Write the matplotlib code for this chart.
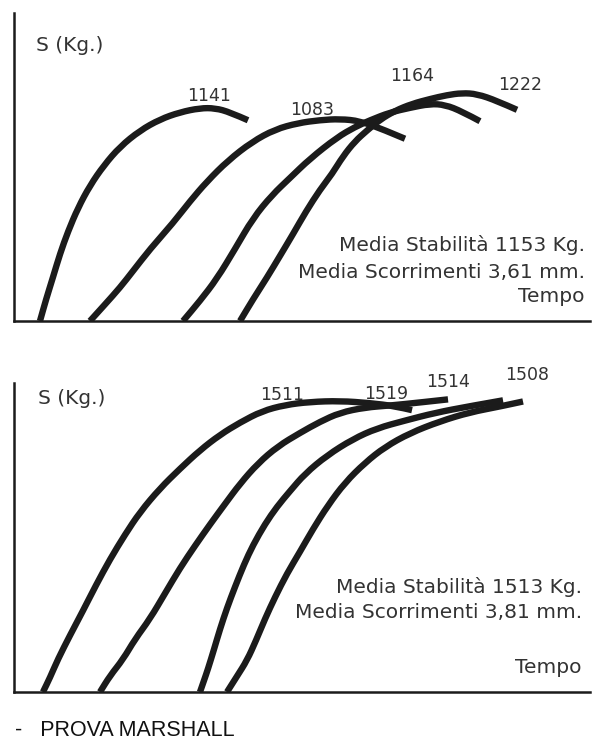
import matplotlib
matplotlib.use("Agg")
import matplotlib.pyplot as plt
from matplotlib.path import Path
from matplotlib.patches import PathPatch

# Marshall test: load S (Kg) against time for four specimens, two mixes

# --- mix 1 ---
a_t = [4.51, 5.56, 6.77, 7.99, 9.38, 11.11, 13.19, 15.63, 18.40, 21.88, 25.35, 28.82, 32.29, 34.90, 37.50, 40.63]
a_s = [0, 115, 235, 360, 480, 606, 726, 835, 934, 1021, 1081, 1119, 1141, 1141, 1119, 1076]

b_t = [13.19, 15.80, 18.40, 20.66, 23.61, 27.60, 30.56, 33.51, 37.15, 41.32, 45.31, 49.31, 53.13, 56.60, 60.07, 64.06, 67.88]
b_s = [0, 89, 179, 268, 385, 525, 642, 748, 860, 960, 1027, 1061, 1077, 1083, 1072, 1027, 977]

c_t = [29.34, 32.29, 35.24, 38.37, 41.49, 44.79, 47.92, 51.39, 56.08, 59.20, 61.81, 65.28, 68.75, 72.22, 74.83, 77.78, 80.90]
c_s = [0, 108, 227, 386, 551, 675, 767, 870, 984, 1040, 1076, 1118, 1143, 1164, 1159, 1123, 1071]

d_t = [39.24, 41.49, 43.92, 46.18, 48.44, 50.69, 53.13, 55.21, 57.12, 59.20, 61.28, 63.54, 66.15, 69.10, 72.22, 75.17, 77.78, 80.38, 83.85, 87.33]
d_s = [0, 116, 233, 349, 466, 587, 704, 788, 883, 963, 1021, 1079, 1127, 1164, 1190, 1211, 1222, 1217, 1180, 1132]

# --- mix 2 ---
e_t = [5.03, 6.25, 7.64, 9.72, 11.98, 14.24, 16.67, 19.27, 21.88, 25.35, 28.82, 32.29, 35.76, 39.24, 43.06, 47.05, 51.39, 56.60, 61.81, 66.15, 69.10]
e_s = [0, 75, 171, 294, 422, 555, 689, 817, 934, 1057, 1159, 1255, 1335, 1399, 1458, 1490, 1506, 1511, 1500, 1484, 1463]

f_t = [14.93, 16.67, 18.92, 21.01, 23.61, 26.22, 28.82, 31.42, 34.03, 36.63, 39.24, 42.36, 45.83, 49.65, 53.13, 56.60, 60.94, 65.28, 70.49, 75.35]
f_s = [0, 84, 169, 274, 380, 512, 643, 759, 870, 976, 1081, 1187, 1276, 1345, 1403, 1450, 1477, 1487, 1503, 1519]

g_t = [32.29, 32.99, 33.68, 34.72, 35.76, 36.98, 38.37, 39.93, 41.49, 43.58, 45.66, 47.92, 50.52, 54.34, 58.85, 63.02, 67.88, 73.09, 79.17, 84.90]
g_s = [0, 60, 120, 221, 326, 436, 546, 662, 762, 872, 962, 1043, 1133, 1228, 1313, 1369, 1409, 1449, 1484, 1514]

h_t = [36.98, 38.72, 40.45, 42.01, 43.58, 45.31, 47.40, 49.65, 51.91, 54.51, 57.47, 60.94, 64.41, 68.75, 73.96, 79.17, 84.38, 88.37]
h_s = [0, 82, 164, 267, 380, 492, 615, 728, 846, 969, 1087, 1190, 1272, 1344, 1405, 1452, 1482, 1508]

top_curves = [(a_t, a_s), (b_t, b_s), (c_t, c_s), (d_t, d_s)]
bot_curves = [(e_t, e_s), (f_t, f_s), (g_t, g_s), (h_t, h_s)]

top_labels = ["1141", "1083", "1164", "1222"]
top_label_pos = [(33.85, 1206), (51.74, 1131), (69.10, 1313), (87.85, 1265)]
bot_labels = ["1511", "1519", "1514", "1508"]
bot_label_pos = [(46.53, 1541), (64.58, 1547), (75.35, 1609), (89.06, 1645)]

top_notes = ["Media Stabilità 1153 Kg.", "Media Scorrimenti 3,61 mm."]
bot_notes = ["Media Stabilità 1513 Kg.", "Media Scorrimenti 3,81 mm."]

INK = "#1b1b1b"
TXT = "#333333"
FS_NUM = 12.5
FS = 14.5

W, H = 601, 742
fig = plt.figure(figsize=(W / 100, H / 100), dpi=100)
fig.patch.set_facecolor("white")

ax1 = fig.add_axes([14 / W, 1 - 321 / H, 576 / W, 308 / H])
ax2 = fig.add_axes([14 / W, 1 - 692 / H, 576 / W, 309 / H])


def setup(ax, ymax):
    ax.set_xlim(0, 100)
    ax.set_ylim(0, ymax)
    for side in ["top", "right"]:
        ax.spines[side].set_visible(False)
    for side in ["left", "bottom"]:
        ax.spines[side].set_linewidth(1.8)
        ax.spines[side].set_color(INK)
    ax.set_xticks([])
    ax.set_yticks([])
    ax.patch.set_alpha(0)


def smooth_curve(ax, t, s):
    # quadratic bezier through the midpoints, the read points act as controls;
    # the first and last points are kept exactly
    pts = list(zip(t, s))
    verts = [pts[0], ((pts[0][0] + pts[1][0]) / 2, (pts[0][1] + pts[1][1]) / 2)]
    codes = [Path.MOVETO, Path.LINETO]
    for i in range(1, len(pts) - 1):
        nxt = pts[i + 1]
        end = nxt if i == len(pts) - 2 else ((pts[i][0] + nxt[0]) / 2, (pts[i][1] + nxt[1]) / 2)
        verts += [pts[i], end]
        codes += [Path.CURVE3, Path.CURVE3]
    patch = PathPatch(Path(verts, codes), fill=False, edgecolor=INK, lw=4.6,
                      capstyle="butt", joinstyle="round")
    ax.add_patch(patch)


setup(ax1, 1651)
setup(ax2, 1604)

for ax, curves in [(ax1, top_curves), (ax2, bot_curves)]:
    for t, s in curves:
        smooth_curve(ax, t, s)

for lab, (x, y) in zip(top_labels, top_label_pos):
    ax1.text(x, y, lab, ha="center", va="center", fontsize=FS_NUM, color=TXT)
for lab, (x, y) in zip(bot_labels, bot_label_pos):
    ax2.text(x, y, lab, ha="center", va="center", fontsize=FS_NUM, color=TXT)

ax1.text(3.82, 1479, "S (Kg.)", ha="left", va="center", fontsize=FS, color=TXT)
ax2.text(4.17, 1526, "S (Kg.)", ha="left", va="center", fontsize=FS, color=TXT)

ax1.text(99.13, 407, top_notes[0], ha="right", va="center", fontsize=FS, color=TXT)
ax1.text(99.13, 262, top_notes[1], ha="right", va="center", fontsize=FS, color=TXT)
ax1.text(99.13, 129, "Tempo", ha="right", va="center", fontsize=FS, color=TXT)

ax2.text(98.6, 545, bot_notes[0], ha="right", va="center", fontsize=FS, color=TXT)
ax2.text(98.6, 415, bot_notes[1], ha="right", va="center", fontsize=FS, color=TXT)
ax2.text(98.6, 125, "Tempo", ha="right", va="center", fontsize=FS, color=TXT)

fig.text(15 / W, 1 - 731 / H, "-   PROVA MARSHALL", ha="left", va="center",
         fontsize=15.5, family="Liberation Sans", color="#111111")

fig.savefig("out.png", dpi=100)
